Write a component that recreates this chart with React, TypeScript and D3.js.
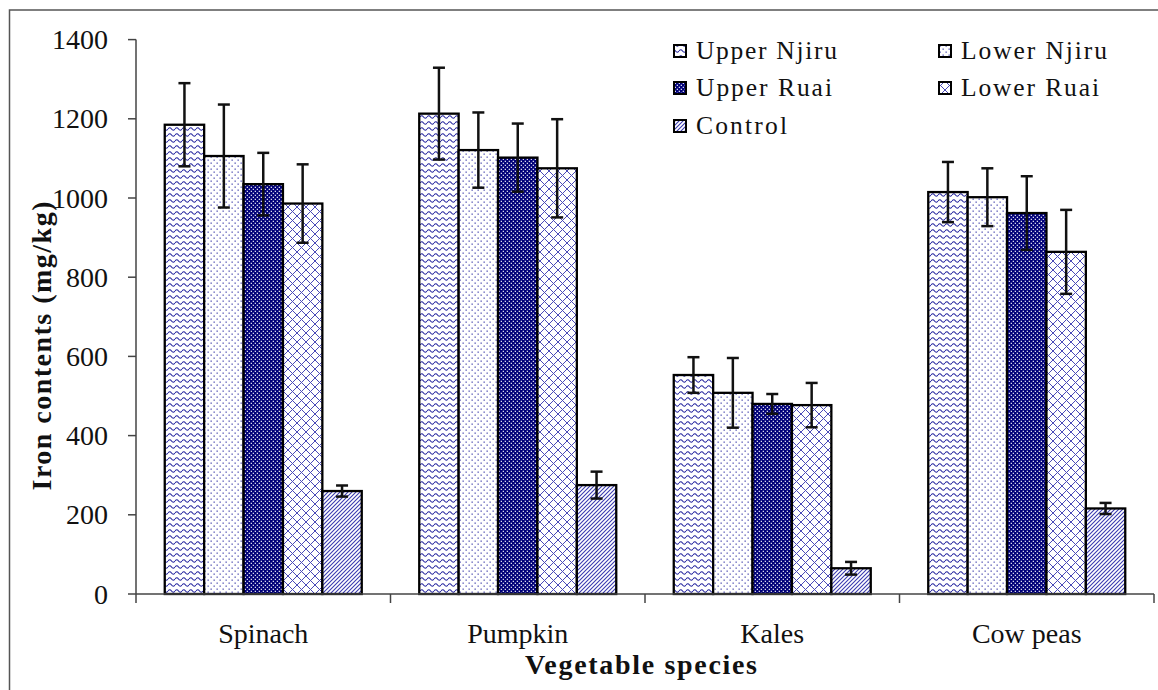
import React from "react";
import * as d3 from "d3";

const categories = ["Spinach", "Pumpkin", "Kales", "Cow peas"];
const seriesNames = ["Upper Njiru", "Lower Njiru", "Upper Ruai", "Lower Ruai", "Control"];
const upperNjiru = [1185, 1213, 553, 1015];
const upperNjiruErr = [105, 116, 45, 76];
const lowerNjiru = [1106, 1121, 508, 1002];
const lowerNjiruErr = [130, 95, 88, 73];
const upperRuai = [1035, 1102, 480, 962];
const upperRuaiErr = [79, 86, 25, 93];
const lowerRuai = [986, 1075, 477, 864];
const lowerRuaiErr = [99, 124, 56, 106];
const control = [260, 275, 65, 216];
const controlErr = [14, 34, 16, 14];
const yTicks = [0, 200, 400, 600, 800, 1000, 1200, 1400];

const values = [upperNjiru, lowerNjiru, upperRuai, lowerRuai, control];
const errors = [upperNjiruErr, lowerNjiruErr, upperRuaiErr, lowerRuaiErr, controlErr];
const patternIds = ["pWave", "pDots", "pDense", "pCross", "pDiag"];

const FONT = "'Liberation Serif', 'Times New Roman', serif";
const NAVY = "#23239e";

export default function App() {
  const W = 1158, H = 690;
  const left = 136, right = 1154, top = 39.6, bottom = 594;
  const x = d3.scaleBand<string>().domain(categories).range([left, right]).paddingInner(0).paddingOuter(0);
  const groupW = 197;
  const xs = d3.scaleBand<string>().domain(seriesNames).range([0, groupW]).padding(0);
  const y = d3.scaleLinear().domain([0, 1400]).range([bottom, top]);
  const bw = x.bandwidth();
  const off = (bw - groupW) / 2;

  const legendCols = [674, 939];
  const legendRows = [51, 88, 126];
  const legendLen = [141, 146, 136, 138, 91];

  return (
    <svg width={W} height={H} style={{ position: "absolute", left: 0, top: 0, background: "#fff" }}>
      <defs>
        <pattern id="pWave" width="7" height="6" patternUnits="userSpaceOnUse">
          <rect width="7" height="6" fill="#fff" />
          <path d="M0,3 Q1.75,0.6 3.5,3 T7,3" fill="none" stroke={NAVY} strokeWidth="1.1" />
        </pattern>
        <pattern id="pDots" width="6" height="6" patternUnits="userSpaceOnUse">
          <rect width="6" height="6" fill="#fff" />
          <rect x="0.5" y="0.5" width="1.3" height="1.3" fill={NAVY} opacity="0.8" />
          <rect x="3.5" y="3.5" width="1.3" height="1.3" fill={NAVY} opacity="0.8" />
        </pattern>
        <pattern id="pDense" width="4" height="4" patternUnits="userSpaceOnUse">
          <rect width="4" height="4" fill="#000078" />
          <rect x="0.7" y="0.7" width="1.3" height="1.3" fill="#fff" opacity="0.85" />
          <rect x="2.7" y="2.7" width="1.3" height="1.3" fill="#fff" opacity="0.85" />
        </pattern>
        <pattern id="pCross" width="9" height="9" patternUnits="userSpaceOnUse">
          <rect width="9" height="9" fill="#fff" />
          <path d="M0,0 L9,9 M9,0 L0,9" stroke="#4a4ab8" strokeWidth="1" />
        </pattern>
        <pattern id="pDiag" width="4" height="4" patternUnits="userSpaceOnUse">
          <rect width="4" height="4" fill="#fff" />
          <path d="M-1,1 L1,-1 M0,4 L4,0 M3,5 L5,3" stroke="#3a3ab0" strokeWidth="1.1" />
        </pattern>
      </defs>

      <rect x={9.5} y={10} width={1200} height={700} fill="none" stroke="#555" strokeWidth={1.5} />

      {/* y axis */}
      <line x1={left} x2={left} y1={top} y2={bottom + 9} stroke="#444" strokeWidth={1.5} />
      {yTicks.map((t) => (
        <g key={t}>
          <line x1={left - 8} x2={left} y1={y(t)} y2={y(t)} stroke="#444" strokeWidth={1.5} />
          <text x={108} y={y(t) + 9.5} textAnchor="end" fontFamily={FONT} fontSize={28} fill="#111">
            {t}
          </text>
        </g>
      ))}

      {/* bars */}
      {categories.map((c, ci) => (
        <g key={c}>
          {seriesNames.map((s, si) => {
            const v = values[si][ci];
            const bx = (x(c) as number) + off + (xs(s) as number);
            return (
              <rect key={s} x={bx} y={y(v)} width={xs.bandwidth()} height={y(0) - y(v)}
                fill={`url(#${patternIds[si]})`} stroke="#000" strokeWidth={2.3} />
            );
          })}
        </g>
      ))}

      {/* x axis */}
      <line x1={left} x2={right} y1={bottom} y2={bottom} stroke="#444" strokeWidth={1.5} />
      {categories.map((c) => (
        <line key={"t" + c} x1={(x(c) as number) + bw} x2={(x(c) as number) + bw} y1={bottom} y2={bottom + 9} stroke="#444" strokeWidth={1.5} />
      ))}

      {/* error bars */}
      {categories.map((c, ci) => (
        <g key={"e" + c}>
          {seriesNames.map((s, si) => {
            const v = values[si][ci];
            const e = errors[si][ci];
            const cx = (x(c) as number) + off + (xs(s) as number) + xs.bandwidth() / 2;
            return (
              <g key={s} stroke="#111" strokeWidth={2.5}>
                <line x1={cx} x2={cx} y1={y(v + e)} y2={y(v - e)} />
                <line x1={cx - 6} x2={cx + 6} y1={y(v + e)} y2={y(v + e)} />
                <line x1={cx - 6} x2={cx + 6} y1={y(v - e)} y2={y(v - e)} />
              </g>
            );
          })}
        </g>
      ))}

      {/* category labels */}
      {categories.map((c) => (
        <text key={"l" + c} x={(x(c) as number) + bw / 2} y={643} textAnchor="middle" fontFamily={FONT} fontSize={28} fill="#111">
          {c}
        </text>
      ))}

      {/* axis titles */}
      <text x={641} y={674} textAnchor="middle" fontFamily={FONT} fontSize={28} fontWeight="bold" fill="#111"
        textLength={232} lengthAdjust="spacing">
        Vegetable species
      </text>
      <text transform={`translate(51,346) rotate(-90)`} textAnchor="middle" fontFamily={FONT} fontSize={28} fontWeight="bold" fill="#111"
        textLength={289} lengthAdjust="spacing">
        Iron contents (mg/kg)
      </text>

      {/* legend */}
      {seriesNames.map((s, i) => {
        const col = i % 2;
        const row = Math.floor(i / 2);
        const lx = legendCols[col];
        const ly = legendRows[row];
        return (
          <g key={"lg" + s}>
            <rect x={lx} y={ly - 6} width={12} height={12} fill={`url(#${patternIds[i]})`} stroke="#000" strokeWidth={2} />
            <text x={lx + 22} y={ly + 8} fontFamily={FONT} fontSize={25.5} fill="#111" textLength={legendLen[i]} lengthAdjust="spacing">
              {s}
            </text>
          </g>
        );
      })}
    </svg>
  );
}
